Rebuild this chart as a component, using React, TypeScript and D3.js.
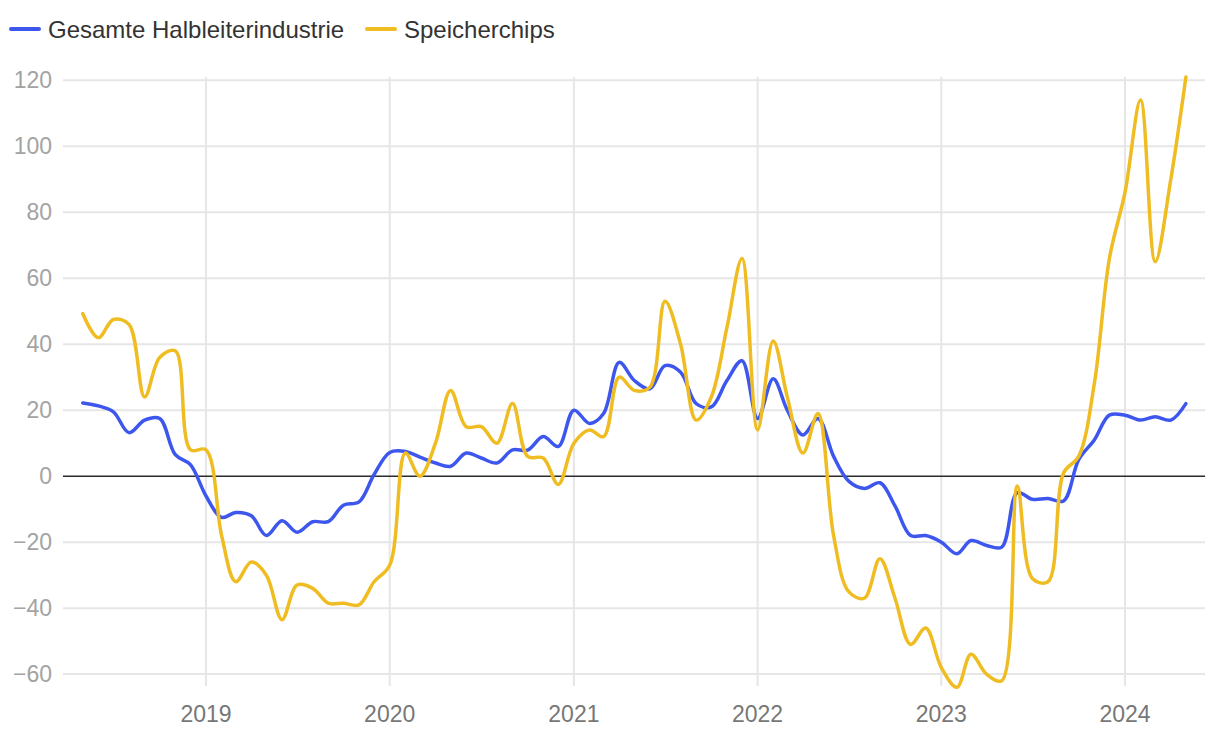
import * as d3 from "d3";
import { useEffect, useRef } from "react";

// monthly values, May 2018 .. May 2024 (change vs. previous year, %)
const startMonth = new Date(2018, 4, 1);
const semiconductors = [
  22.2, 21.3, 19.5, 13.2, 17, 17.5, 6.5, 3.5, -6, -12.5,
  -11, -12, -18, -13.5, -17, -13.8, -13.8, -8.8, -7.8, 0.5,
  7.2, 7.5, 5.8, 4, 3, 7, 5.5, 4, 8, 7.9,
  12, 9, 20, 16, 19, 34.5, 29, 26.5, 33.5, 31.5,
  22, 21, 29, 35, 17.5, 29.5, 20, 12.5, 17.5, 6,
  -1.5, -3.7, -2, -9, -18, -18, -20, -23.5, -19.5, -21,
  -21.5, -5, -7, -6.8, -7.5, 5, 11, 18.5, 18.5, 17,
  18, 17, 22,
];
const memoryChips = [
  49.3, 42, 47.5, 46, 24, 36, 38, 8, 8, -18,
  -32, -26, -30, -43.5, -33, -34, -38.5, -38.5, -39, -32,
  -27, 7, 0, 10, 26, 15, 15, 10, 22, 6,
  5.5, -2.5, 10, 14, 12, 30, 26, 27, 53, 40,
  17, 24, 45, 66, 14, 41, 24, 7, 19, -18,
  -35, -37, -25, -37, -51, -46, -58, -64, -54, -60,
  -62, -3, -31, -32, 1, 6, 28, 66, 86, 114,
  65, 90, 121,
];
const seriesNames = ["Gesamte Halbleiterindustrie", "Speicherchips"];
const seriesColors = ["#3d57ee", "#efbd22"];
const yTicks = [-60, -40, -20, 0, 20, 40, 60, 80, 100, 120];
const xTickYears = [2019, 2020, 2021, 2022, 2023, 2024];
const yDomain = [-63.6, 121];

const FONT = "'Liberation Sans', Arial, Helvetica, sans-serif";

const App = () => {
  const svgRef = useRef<SVGSVGElement>(null);

  const renderSVG = () => {
    const dims = {
      width: 1220,
      height: 734,
      left: 63,
      right: 1205,
      top: 77,
      bottom: 686,
    };

    const dates = semiconductors.map((_, i) => d3.timeMonth.offset(startMonth, i));

    // X scale: 2019 at x=206, 2024 at x=1125
    const xScale = d3
      .scaleTime()
      .domain([new Date(2019, 0, 1), new Date(2024, 0, 1)])
      .range([206, 1125]);
    const yScale = d3.scaleLinear(yDomain, [dims.bottom, dims.top]);

    svgRef.current!.innerHTML = "";
    const svg = d3
      .select(svgRef.current)
      .attr("width", dims.width)
      .attr("height", dims.height)
      .attr("viewBox", [0, 0, dims.width, dims.height].join(" "));

    // horizontal grid + y labels
    const yAxis = svg.append("g");
    yTicks.forEach((t) => {
      yAxis
        .append("line")
        .attr("x1", dims.left)
        .attr("x2", dims.right)
        .attr("y1", yScale(t))
        .attr("y2", yScale(t))
        .attr("stroke", t === 0 ? "none" : "#e6e6e6")
        .attr("stroke-width", 2);
      yAxis
        .append("text")
        .attr("x", 52)
        .attr("y", yScale(t))
        .attr("text-anchor", "end")
        .attr("dominant-baseline", "central")
        .attr("font-size", 23)
        .attr("font-family", FONT)
        .attr("fill", "#a3a3a3")
        .text(t < 0 ? `\u2212${Math.abs(t)}` : `${t}`);
    });

    // vertical grid + x labels
    const xAxis = svg.append("g");
    xTickYears.forEach((yr) => {
      const x = xScale(new Date(yr, 0, 1));
      xAxis
        .append("line")
        .attr("x1", x)
        .attr("x2", x)
        .attr("y1", dims.top)
        .attr("y2", dims.bottom)
        .attr("stroke", "#e6e6e6")
        .attr("stroke-width", 2);
      xAxis
        .append("text")
        .attr("x", x)
        .attr("y", 714)
        .attr("text-anchor", "middle")
        .attr("dominant-baseline", "central")
        .attr("font-size", 23)
        .attr("font-family", FONT)
        .attr("fill", "#777777")
        .text(yr);
    });

    // zero line
    svg
      .append("line")
      .attr("x1", dims.left)
      .attr("x2", dims.right)
      .attr("y1", yScale(0))
      .attr("y2", yScale(0))
      .attr("stroke", "#2b2b2b")
      .attr("stroke-width", 1.6);

    const line = d3
      .line<number>()
      .x((_, i) => xScale(dates[i]))
      .y((d) => yScale(d))
      .curve(d3.curveCatmullRom.alpha(0.5));

    [semiconductors, memoryChips].forEach((vals, k) => {
      svg
        .append("path")
        .attr("d", line(vals))
        .attr("fill", "none")
        .attr("stroke", seriesColors[k])
        .attr("stroke-width", 3.5)
        .attr("stroke-linejoin", "round")
        .attr("stroke-linecap", "round");
    });

    // legend
    const legendX = [11, 367];
    seriesNames.forEach((name, k) => {
      const g = svg.append("g").attr("transform", `translate(${legendX[k]}, 29)`);
      g.append("line")
        .attr("x1", 0)
        .attr("x2", 28)
        .attr("stroke", seriesColors[k])
        .attr("stroke-width", 4)
        .attr("stroke-linecap", "round");
      g.append("text")
        .attr("x", 37)
        .attr("y", 0)
        .attr("dominant-baseline", "central")
        .attr("font-size", 24)
        .attr("font-family", FONT)
        .attr("fill", "#333333")
        .text(name);
    });
  };

  useEffect(() => {
    renderSVG();
  });

  return (
    <svg
      ref={svgRef}
      style={{ position: "absolute", left: 0, top: 0, background: "#fff" }}
    />
  );
};

export default App;
